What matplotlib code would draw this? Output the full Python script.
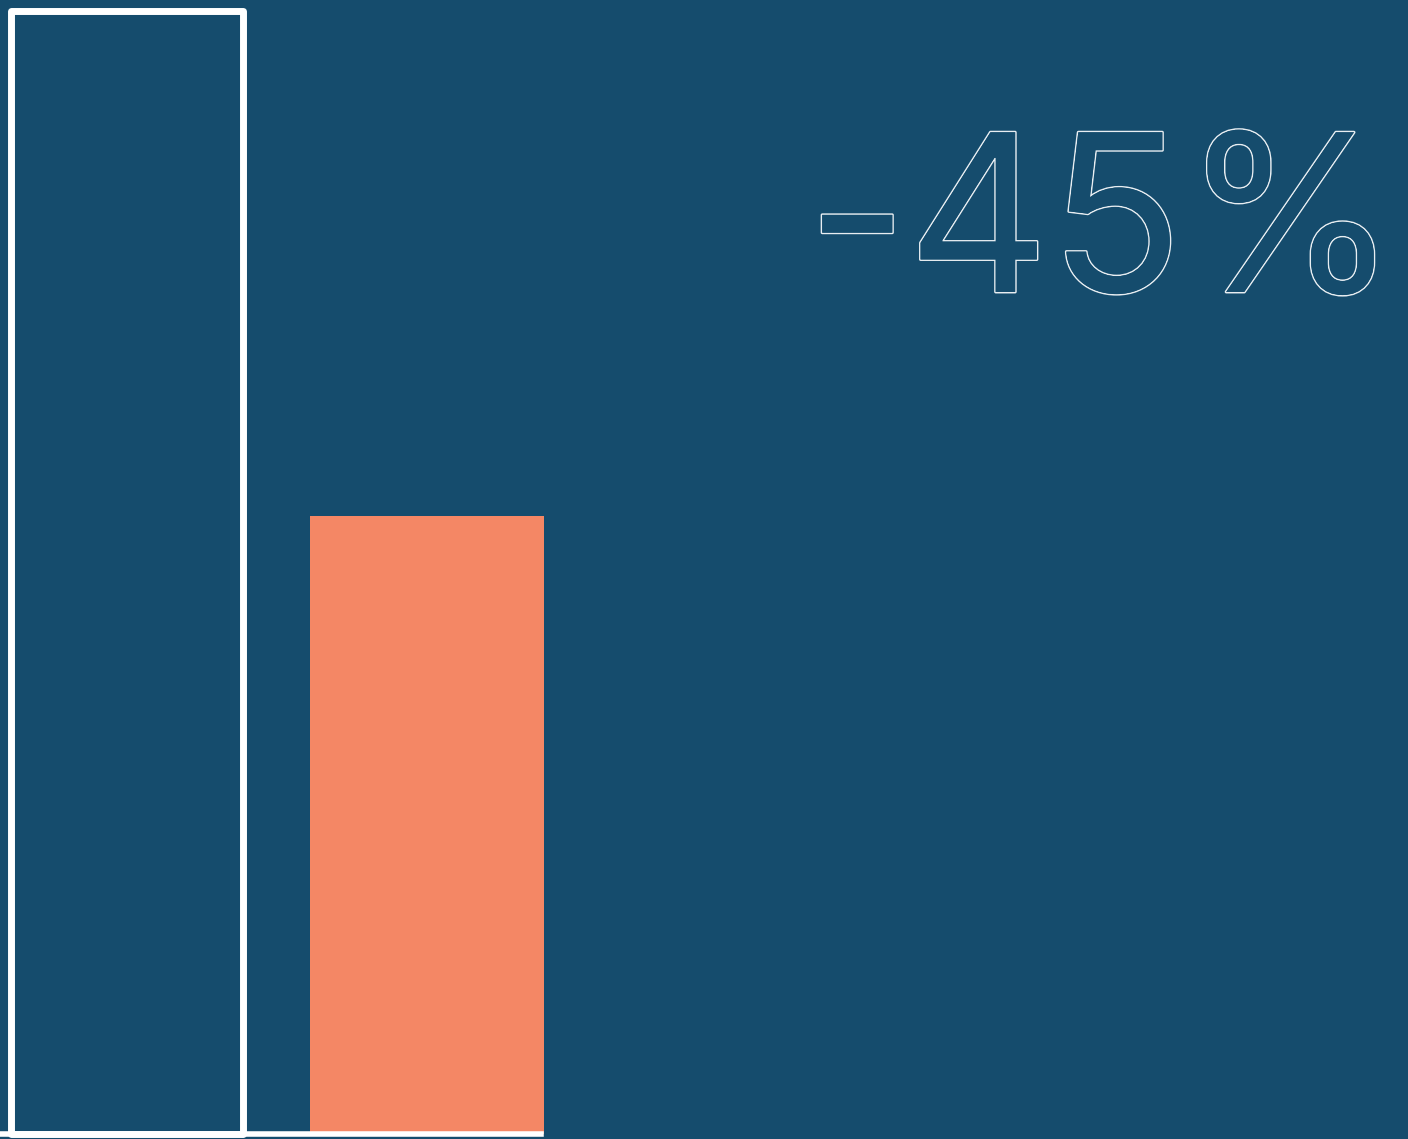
import matplotlib.pyplot as plt
import matplotlib.patheffects as pe

categories = ["Before", "After"]
values = [100, 55]
change_label = "-45%"

bg = "#154c6d"
salmon = "#f48765"

fig = plt.figure(figsize=(14.08, 11.39), dpi=100)
fig.patch.set_facecolor(bg)
ax = fig.add_axes([0, 0, 1, 1])
ax.set_facecolor(bg)

x = range(len(categories))
ax.bar(x[0], values[0], width=0.775, color=bg, edgecolor="white",
       linewidth=5, joinstyle="round")
ax.bar(x[1], values[1], width=0.778, color=salmon, edgecolor="none")

ax.axhline(0, xmin=0, xmax=0.384, color="white", linewidth=4)

ax.set_xlim(-0.423, 4.27)
ax.set_ylim(-0.445, 100.98)
ax.axis("off")

t = fig.text(0.993, 0.7437, change_label, ha="right", va="baseline",
             fontsize=158, family="Inter", color=bg)
t.set_path_effects([pe.withStroke(linewidth=2.2, foreground="#e8eef2"),
                    pe.Normal()])

fig.savefig("out.png", dpi=100, facecolor=bg)
